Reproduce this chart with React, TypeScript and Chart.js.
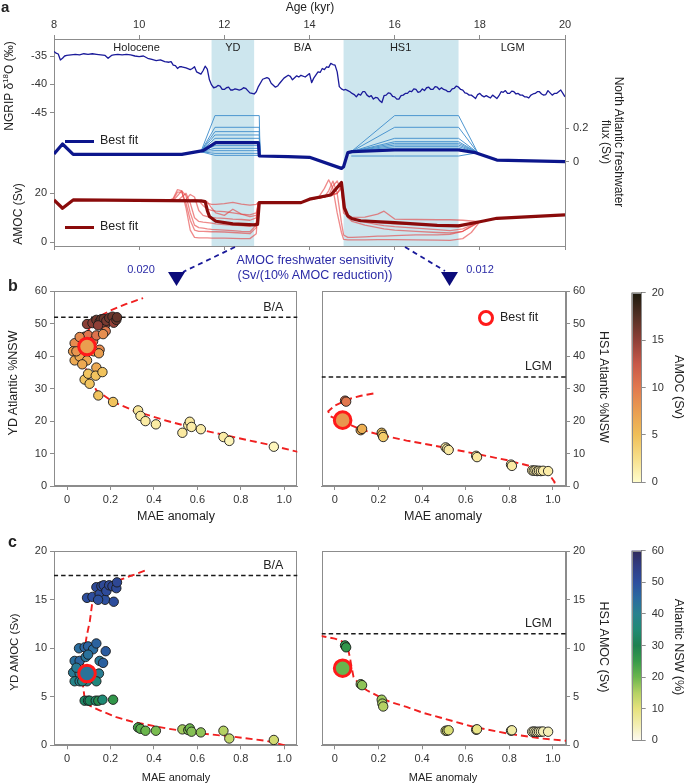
import React, { useEffect, useRef } from 'react';
import { Chart, registerables } from 'chart.js';
Chart.register(...registerables);

const FONT = "'Liberation Sans', Arial, Helvetica, sans-serif";
const GRAY = '#8c8c8c';
const TICK_TXT = '#333';

// ---------------- Panel a data ----------------
const ageTicks = [8, 10, 12, 14, 16, 18, 20];
const d18oTicks = [-45, -40, -35];
const fwTicks = [0, 0.2];
const amocTicksA = [0, 20];

const d18oAge = [
  8.0, 8.05, 8.1, 8.15, 8.2, 8.25, 8.3, 8.4, 8.5, 8.6,
  8.7, 8.8, 8.9, 9.0, 9.1, 9.2, 9.27, 9.35, 9.4, 9.5,
  9.6, 9.7, 9.8, 9.9, 10.0, 10.1, 10.2, 10.3, 10.4, 10.5,
  10.6, 10.7, 10.75, 10.8, 10.85, 10.9, 10.95, 11.0, 11.1, 11.2,
  11.25, 11.3, 11.35, 11.45, 11.5, 11.55, 11.6, 11.65, 11.7, 11.75,
  11.8, 11.85, 11.9, 11.95, 12.0, 12.05, 12.1, 12.15, 12.2, 12.25,
  12.3, 12.35, 12.4, 12.45, 12.5, 12.55, 12.6, 12.7, 12.75, 12.8,
  12.9, 13.0, 13.05, 13.1, 13.2, 13.25, 13.3, 13.4, 13.5, 13.55,
  13.6, 13.7, 13.75, 13.8, 13.9, 14.0, 14.05, 14.1, 14.2, 14.25,
  14.3, 14.35, 14.4, 14.45, 14.5, 14.55, 14.6, 14.65, 14.7, 14.75,
  14.8, 14.85, 14.9, 14.95, 15.0, 15.05, 15.1, 15.15, 15.2, 15.25,
  15.3, 15.35, 15.4, 15.45, 15.5, 15.55, 15.6, 15.65, 15.7, 15.75,
  15.8, 15.85, 15.9, 15.95, 16.0, 16.05, 16.1, 16.15, 16.2, 16.25,
  16.3, 16.35, 16.4, 16.45, 16.5, 16.55, 16.6, 16.65, 16.7, 16.75,
  16.8, 16.85, 16.9, 16.95, 17.0, 17.05, 17.1, 17.15, 17.2, 17.25,
  17.3, 17.35, 17.4, 17.45, 17.5, 17.55, 17.6, 17.65, 17.7, 17.75,
  17.8, 17.85, 17.9, 17.95, 18.0, 18.05, 18.1, 18.15, 18.2, 18.25,
  18.3, 18.35, 18.4, 18.45, 18.5, 18.55, 18.6, 18.65, 18.7, 18.75,
  18.8, 18.85, 18.9, 18.95, 19.0, 19.05, 19.1, 19.15, 19.2, 19.25,
  19.3, 19.35, 19.4, 19.45, 19.5, 19.55, 19.6, 19.65, 19.7, 19.75,
  19.8, 19.85, 19.9, 19.95, 20.0,
];
const d18oVal = [
  -34.2, -34.5, -34.65, -35.7, -35.4, -35.0, -34.9, -34.8, -34.7, -34.8,
  -34.6, -34.7, -34.6, -34.7, -34.8, -34.9, -35.4, -34.9, -34.8, -34.7,
  -34.8, -34.7, -34.8, -35.0, -35.1, -35.0, -35.4, -35.6, -35.8, -35.7,
  -36.0, -36.1, -36.0, -36.6, -36.7, -37.2, -36.9, -36.9, -37.1, -37.4,
  -37.2, -36.9, -37.8, -38.2, -37.6, -36.8, -37.3, -39.2, -40.1, -40.6,
  -40.5, -40.2, -40.3, -40.9, -40.9, -40.6, -40.5, -41.0, -41.0, -40.8,
  -40.9, -41.0, -40.9, -40.6, -40.7, -41.1, -41.5, -41.7, -41.3, -40.4,
  -39.1, -38.8, -39.0, -39.8, -40.5, -40.3, -39.8, -38.9, -38.4, -38.6,
  -39.2, -38.5, -38.7, -38.4, -38.7, -38.1, -39.7, -38.9, -37.8, -37.9,
  -37.2, -37.4, -36.9, -37.0, -36.3, -36.5, -36.6, -37.8, -40.4, -40.8,
  -41.0, -40.9, -41.1, -41.3, -41.6, -41.8, -42.2, -41.7, -41.9, -41.3,
  -41.3, -41.9, -42.2, -42.0, -42.6, -42.3, -42.4, -42.9, -43.2, -42.0,
  -41.9, -41.5, -41.6, -42.1, -42.2, -42.6, -42.6, -42.0, -41.9, -41.6,
  -41.6, -41.2, -41.3, -40.8, -40.9, -41.4, -41.3, -40.8, -41.1, -40.6,
  -40.5, -40.9, -40.9, -40.4, -40.5, -40.9, -40.6, -40.9, -41.0, -41.3,
  -41.3, -40.8, -40.7, -40.3, -40.5, -40.9, -41.0, -41.5, -41.6, -41.9,
  -41.9, -42.2, -42.5, -41.8, -41.6, -42.0, -42.2, -42.0, -42.2, -42.4,
  -41.9, -42.2, -42.5, -42.0, -41.3, -41.4, -41.1, -41.6, -41.6, -41.2,
  -41.3, -41.7, -41.6, -41.9, -41.9, -42.2, -42.2, -42.4, -41.9, -41.7,
  -41.6, -41.3, -41.3, -41.7, -41.9, -41.8, -41.1, -41.5, -41.9, -41.6,
  -41.6, -41.3, -41.0, -41.6, -42.2,
];

const fwBestAge = [8.0, 8.2, 8.45, 11.0, 11.5, 11.8, 12.8, 12.82, 13.5, 14.0, 14.75, 14.8, 14.9, 15.0, 16.0, 17.5, 17.9, 18.4, 20.0];
const fwBestVal = [0.046, 0.106, 0.044, 0.044, 0.066, 0.114, 0.114, 0.034, 0.03, 0.026, -0.04, -0.03, 0.054, 0.06, 0.07, 0.07, 0.054, 0.01, 0.0];

const fwYdAge = [11.45, 11.78, 12.82, 12.84];
const fwYdMembers = [
  [0.06, 0.276, 0.276, 0.034],
  [0.06, 0.206, 0.206, 0.034],
  [0.06, 0.18, 0.18, 0.034],
  [0.06, 0.16, 0.16, 0.034],
  [0.06, 0.14, 0.14, 0.034],
  [0.06, 0.096, 0.096, 0.034],
  [0.06, 0.08, 0.08, 0.034],
  [0.06, 0.066, 0.066, 0.034],
  [0.06, 0.05, 0.05, 0.034],
  [0.06, 0.038, 0.038, 0.034],
];
const fwHsAge = [14.98, 16.0, 17.5, 17.95];
const fwHsMembers = [
  [0.06, 0.276, 0.276, 0.054],
  [0.06, 0.206, 0.206, 0.054],
  [0.06, 0.14, 0.14, 0.054],
  [0.06, 0.12, 0.12, 0.054],
  [0.06, 0.11, 0.11, 0.054],
  [0.06, 0.10, 0.10, 0.054],
  [0.06, 0.09, 0.09, 0.054],
  [0.06, 0.08, 0.08, 0.054],
  [0.034, 0.034, 0.034, 0.054],
];

const amocBestAge = [8.0, 8.2, 8.45, 11.45, 11.55, 11.6, 11.65, 11.8, 12.2, 12.7, 12.78, 12.82, 13.5, 13.8, 14.0, 14.5, 14.75, 14.82, 14.9, 15.0, 15.2, 16.0, 17.0, 17.5, 18.0, 18.4, 20.0];
const amocBestVal = [17.3, 13.9, 17.3, 16.9, 16.6, 13.0, 10.5, 8.6, 7.5, 7.1, 7.3, 16.2, 16.2, 16.2, 17.6, 19.3, 24.4, 14.0, 10.8, 9.6, 8.8, 8.0, 6.9, 6.7, 8.4, 9.8, 11.2];

const amocYdAge = [10.7, 10.8, 10.9, 11.0, 11.1, 11.2, 11.3, 11.4, 11.5, 11.6, 11.7, 11.8, 12.0, 12.2, 12.4, 12.6, 12.75, 12.8];
const amocYdMembers = [
  [17, 18, 21.5, 21, 14, 5, 2.0, 1.8, 1.8, 1.8, 1.7, 1.7, 1.7, 1.6, 1.5, 1.5, 3.5, 16.2],
  [17, 17.5, 20.5, 20.5, 16, 9, 5, 4.5, 4.5, 4.4, 4.3, 4.3, 4.2, 4.0, 3.8, 3.5, 6, 16.2],
  [17, 17, 19, 21, 19, 12, 7, 6, 5.8, 5.5, 5.3, 5.2, 5.0, 4.8, 4.5, 4.3, 7, 16.2],
  [17, 17, 17, 18.5, 20, 16, 10, 8.5, 8.2, 8.0, 7.8, 7.5, 7.2, 7.0, 6.8, 6.5, 8, 16.2],
  [17, 17, 17, 17, 17.5, 19.5, 18.5, 13, 11, 10.5, 10.2, 10.0, 9.8, 9.5, 9.3, 9.0, 10, 16.2],
  [17, 17, 17, 17, 17, 17, 17.5, 17, 15, 13.5, 13, 12.7, 12.5, 12.0, 11.5, 11.2, 12, 16.2],
  [17, 17, 17, 17, 17, 17, 17, 17, 16.8, 16, 15.5, 15.5, 15.8, 16.3, 15.6, 15.2, 15.5, 16.2],
  [17, 17, 17, 17, 17, 17, 17, 17, 17, 16.5, 14, 12, 11, 13.5, 11.5, 10.5, 11, 16.2],
];
const amocHsAge = [14.0, 14.2, 14.35, 14.45, 14.55, 14.65, 14.75, 14.8, 14.9, 15.0, 15.3, 15.6, 15.75, 16.0, 16.5, 17.0, 17.3, 17.6, 17.8, 18.0];
const amocHsMembers = [
  [17.6, 18, 22, 25.5, 22, 12, 4, 1.2, 1.0, 1.0, 1.0, 1.1, 1.1, 1.1, 1.0, 0.9, 0.8, 1.5, 4, 8.4],
  [17.6, 18, 18.5, 21, 25, 20, 8, 3, 2.0, 2.0, 2.2, 2.5, 2.5, 2.7, 3.0, 3.0, 3.2, 4.5, 6.5, 8.4],
  [17.6, 18, 18.5, 19, 23, 25, 21, 12, 10.5, 10.2, 10.3, 11.5, 12.7, 9.5, 9.3, 9.2, 9.2, 9.0, 8.7, 8.4],
  [17.6, 18, 18.5, 19, 19.5, 22, 24, 16, 10.5, 9.5, 8.5, 8.0, 7.8, 7.5, 7.2, 7.0, 7.0, 7.2, 7.8, 8.4],
  [17.6, 18, 18.5, 19, 19.5, 20, 23, 15, 11, 9.8, 8.2, 7.2, 6.8, 6.4, 5.8, 5.2, 4.8, 5.5, 7, 8.4],
  [17.6, 18, 18.5, 19, 19.5, 20, 22, 14, 10, 8.5, 7.0, 6.0, 5.5, 5.0, 4.5, 4.0, 3.8, 4.5, 6.5, 8.4],
];

const zoneStart = [11.7, 14.8];
const zoneEnd = [12.7, 17.5];
const periodNames = ['Holocene', 'YD', 'B/A', 'HS1', 'LGM'];
const periodCentres = [9.94, 12.2, 13.84, 16.14, 18.77];
const sensitivity = ['0.020', '0.012'];

// ---------------- Panels b & c data ----------------
const maeTicks = [0, 0.2, 0.4, 0.6, 0.8, 1.0];
const nswTicks = [0, 10, 20, 30, 40, 50, 60];
const amocTicks = [0, 5, 10, 15, 20];

const ydMae = [
  0.092, 0.117, 0.135, 0.150, 0.158, 0.169, 0.175, 0.181, 0.194, 0.209, 0.215, 0.227, 0.230, 0.143,
  0.055, 0.081, 0.097, 0.120, 0.135, 0.178, 0.035, 0.058, 0.086, 0.097, 0.150, 0.166,
  0.028, 0.058, 0.123, 0.147, 0.035, 0.058, 0.092, 0.135, 0.043, 0.070,
  0.081, 0.097, 0.104, 0.132, 0.144, 0.163, 0.212,
  0.327, 0.338, 0.361, 0.409, 0.531, 0.558, 0.565, 0.573, 0.616, 0.720, 0.747, 0.952,
];
const ydNsw = [
  49.9, 50.2, 51.2, 50.6, 51.4, 51.5, 49.6, 50.9, 51.8, 52.2, 50.3, 51.2, 52.0, 49.5,
  44.3, 46.0, 46.5, 44.6, 46.4, 47.7, 44.0, 45.9, 42.8, 43.5, 42.0, 46.8,
  41.5, 40.8, 41.5, 40.9, 38.7, 39.9, 38.7, 36.5, 41.5, 37.5,
  32.8, 34.6, 31.5, 34.0, 27.9, 35.1, 25.9,
  23.3, 21.6, 20.0, 19.0, 16.4, 18.7, 19.8, 18.2, 17.5, 15.1, 13.9, 12.1,
];
const ydAmoc = [
  15.2, 15.3, 16.3, 15.6, 16.4, 16.5, 15.0, 15.9, 16.5, 16.4, 14.8, 16.2, 16.8, 15.0,
  10.0, 10.1, 10.2, 9.9, 10.5, 9.7, 8.7, 8.7, 9.1, 9.35, 8.7, 8.5,
  7.5, 7.4, 7.0, 7.4, 6.6, 6.6, 6.6, 6.6, 8.0, 6.6,
  4.6, 4.6, 4.6, 4.6, 4.6, 4.7, 4.7,
  1.84, 1.7, 1.5, 1.5, 1.64, 1.57, 1.74, 1.4, 1.33, 1.5, 0.7, 0.55,
];
const hsMae = [0.047, 0.052, 0.119, 0.125, 0.215, 0.218, 0.222, 0.508, 0.515, 0.522, 0.648, 0.652, 0.808, 0.812, 0.905, 0.912, 0.920, 0.928, 0.936, 0.945, 0.955, 0.978];
const hsNsw = [26.3, 26.0, 17.2, 17.6, 16.4, 15.8, 15.1, 11.9, 11.5, 11.1, 9.3, 8.9, 6.6, 6.2, 4.8, 4.7, 4.8, 4.6, 4.7, 4.6, 4.7, 4.6];
const hsAmoc = [10.3, 10.1, 6.3, 6.2, 4.7, 4.3, 4.0, 1.5, 1.5, 1.55, 1.6, 1.65, 1.5, 1.55, 1.4, 1.42, 1.4, 1.38, 1.4, 1.4, 1.42, 1.4];

const bestMae = [0.092, 0.036];
const bestNsw = [43.0, 20.3];
const bestAmoc = [7.4, 7.95];

const ydNswFitX = [1.07, 0.918, 0.765, 0.611, 0.458, 0.304, 0.212, 0.135, 0.104, 0.085, 0.075, 0.078, 0.09, 0.115, 0.15, 0.197, 0.273, 0.35];
const ydNswFitY = [10.4, 12.9, 15.1, 17.4, 20.1, 23.3, 25.9, 29.5, 33.0, 36.5, 40, 43.5, 47, 50, 52.3, 54.0, 56.1, 57.9];
const ydAmocFitX = [1.003, 0.918, 0.765, 0.611, 0.458, 0.304, 0.227, 0.15, 0.104, 0.08, 0.072, 0.075, 0.09, 0.105, 0.115, 0.13, 0.17, 0.25, 0.358];
const ydAmocFitY = [0, 0.45, 0.89, 1.23, 1.74, 2.4, 2.9, 3.6, 4.1, 5.0, 6.5, 9, 11.2, 12.8, 14.5, 15.6, 16.4, 17.1, 18.0];
const hsNswFitX = [0.177, 0.12, 0.07, 0.04, 0.0, -0.03, -0.02, 0.02, 0.06, 0.119, 0.2, 0.329, 0.482, 0.634, 0.787, 0.939, 0.985, 1.008, 1.0];
const hsNswFitY = [28.5, 27.8, 26.9, 26.0, 24.8, 23.0, 21.5, 20.2, 19.2, 17.4, 15.9, 14.0, 12.1, 10.1, 8.0, 5.4, 3.4, 1.2, 0];
const hsAmocFitX = [-0.07, 0.0, 0.035, 0.06, 0.07, 0.075, 0.086, 0.116, 0.147, 0.177, 0.253, 0.329, 0.406, 0.482, 0.634, 0.787, 0.939, 1.07];
const hsAmocFitY = [11.3, 11.0, 10.7, 10.0, 9.0, 8.3, 7.03, 6.18, 5.67, 5.32, 4.47, 3.96, 3.34, 2.87, 1.91, 1.23, 0.72, 0.45];

const refNsw = [52.0, 33.6];
const refAmoc = [17.5, 11.5];
const refNames = ['B/A', 'LGM'];

// ---------------- colour maps (styles) ----------------
const LAJOLLA: [number, string][] = [
  [0, '#fffdcc'], [0.125, '#f7df8a'], [0.25, '#f0bf57'], [0.375, '#ea9d4f'], [0.5, '#e2784e'],
  [0.625, '#c85848'], [0.75, '#8f3f37'], [0.875, '#533024'], [1, '#1c1a0c'],
];
const DEEP: [number, string][] = [
  [0, '#fdfaf0'], [0.083, '#f3eeb0'], [0.167, '#e6e27c'], [0.25, '#b5d263'], [0.333, '#6bb64d'],
  [0.417, '#379b49'], [0.5, '#1d8150'], [0.583, '#1f8a74'], [0.667, '#27818f'], [0.75, '#2a6aa0'],
  [0.833, '#2d4e9e'], [0.917, '#303c84'], [1, '#312b5c'],
];
function hexRgb(h: string) { const n = parseInt(h.slice(1), 16); return [(n >> 16) & 255, (n >> 8) & 255, n & 255]; }
function cmap(stops: [number, string][], t: number) {
  t = Math.max(0, Math.min(1, t));
  for (let i = 1; i < stops.length; i++) {
    if (t <= stops[i][0]) {
      const [t0, c0] = stops[i - 1]; const [t1, c1] = stops[i];
      const f = (t - t0) / (t1 - t0);
      const a = hexRgb(c0), b = hexRgb(c1);
      return `rgb(${a.map((v, k) => Math.round(v + (b[k] - v) * f)).join(',')})`;
    }
  }
  return stops[stops.length - 1][1];
}

// ---------------- helpers ----------------
const pts = (xs: number[], ys: number[]) => xs.map((x, i) => ({ x, y: ys[i] }));
function rangeFrom(v1: number, p1: number, v2: number, p2: number, top: number, bottom: number) {
  const k = (v2 - v1) / (p2 - p1);
  return { max: v1 + k * (top - p1), min: v1 + k * (bottom - p1) };
}
function mkAxis(o: any) {
  const ax: any = {
    type: 'linear',
    position: o.position,
    min: o.min, max: o.max,
    grid: { drawOnChartArea: false, drawTicks: true, tickLength: 4, color: GRAY, lineWidth: 1 },
    border: { display: true, color: GRAY, width: 1 },
    ticks: { font: { family: FONT, size: o.fontSize || 11 }, color: TICK_TXT, padding: o.padding ?? 3, maxRotation: 0, autoSkip: false },
    afterFit: (s: any) => { if (o.width != null) s.width = o.width; if (o.height != null) s.height = o.height; },
  };
  if (o.weight != null) ax.weight = o.weight;
  if (o.callback) ax.ticks.callback = o.callback;
  if (o.ticksAt) ax.afterBuildTicks = (s: any) => { s.ticks = o.ticksAt.map((value: number) => ({ value })); };
  return ax;
}

// panel a layout
const A_W = 685, A_H = 258, A_LEFT = 54, A_RIGHT = 565, A_TOP = 39, A_BOTTOM = 246;

const zonePlugin = {
  id: 'zones',
  beforeDraw(chart: any) {
    const { ctx, chartArea: ca, scales } = chart;
    const x = scales.x;
    ctx.save();
    ctx.fillStyle = '#cde6ee';
    zoneStart.forEach((s, i) => {
      const x1 = x.getPixelForValue(s), x2 = x.getPixelForValue(zoneEnd[i]);
      ctx.fillRect(x1, ca.top, x2 - x1, ca.bottom - ca.top);
    });
    ctx.font = `11px ${FONT}`;
    ctx.fillStyle = '#222';
    ctx.textAlign = 'center';
    ctx.textBaseline = 'middle';
    periodNames.forEach((n, i) => ctx.fillText(n, x.getPixelForValue(periodCentres[i]), ca.top + 8.5));
    ctx.restore();
  },
  afterDraw(chart: any) {
    // tick labels of the inner (zero-width) AMOC axis, which Chart.js clips away
    const { ctx, chartArea: ca, scales } = chart;
    const s = scales.ya;
    ctx.save();
    ctx.font = `11px ${FONT}`;
    ctx.fillStyle = TICK_TXT;
    ctx.textAlign = 'right';
    ctx.textBaseline = 'middle';
    s.ticks.forEach((t: any) => ctx.fillText(String(t.value), ca.left - 7, s.getPixelForValue(t.value)));
    ctx.restore();
  },
};

function lineDs(data: any[], yAxisID: string, color: string, width: number, order: number) {
  return { data, xAxisID: 'x', yAxisID, borderColor: color, borderWidth: width, pointRadius: 0, tension: 0, fill: false, order, borderJoinStyle: 'round' };
}

function panelAConfig() {
  const dR = rangeFrom(-35, 56, -45, 112.7, A_TOP, A_BOTTOM);
  const fR = rangeFrom(0, 161.7, 0.2, 128.3, A_TOP, A_BOTTOM);
  const mR = rangeFrom(0, 242.3, 20, 193.3, A_TOP, A_BOTTOM);
  const FW_ENS = 'rgba(70,145,205,0.95)';
  const AM_ENS = 'rgba(228,60,60,0.6)';
  const datasets: any[] = [
    ...fwYdMembers.map(m => lineDs(pts(fwYdAge, m), 'yf', FW_ENS, 1, 6)),
    ...fwHsMembers.map(m => lineDs(pts(fwHsAge, m), 'yf', FW_ENS, 1, 6)),
    lineDs(pts(fwBestAge, fwBestVal), 'yf', '#0c168c', 3.2, 2),
    ...amocYdMembers.map(m => lineDs(pts(amocYdAge, m), 'ya', AM_ENS, 1.3, 5)),
    ...amocHsMembers.map(m => lineDs(pts(amocHsAge, m), 'ya', AM_ENS, 1.3, 5)),
    lineDs(pts(amocBestAge, amocBestVal), 'ya', '#8a0b0b', 3.2, 2),
    lineDs(pts(d18oAge, d18oVal), 'yd', '#1b1b9a', 1.3, 1),
  ];
  return {
    type: 'line',
    data: { datasets },
    options: {
      animation: false, responsive: false, events: [],
      layout: { padding: 0 },
      plugins: { legend: { display: false }, tooltip: { enabled: false } },
      scales: {
        x: mkAxis({ position: 'top', min: 8, max: 20, ticksAt: ageTicks, height: A_TOP }),
        xb: mkAxis({ position: 'bottom', min: 8, max: 20, ticksAt: ageTicks, height: A_H - A_BOTTOM, callback: () => '' }),
        yd: mkAxis({ position: 'left', min: dR.min, max: dR.max, ticksAt: d18oTicks, width: A_LEFT, weight: 2 }),
        ya: mkAxis({ position: 'left', min: mR.min, max: mR.max, ticksAt: amocTicksA, width: 0, weight: 1 }),
        yf: mkAxis({ position: 'right', min: fR.min, max: fR.max, ticksAt: fwTicks, width: A_W - A_RIGHT, padding: 4 }),
      },
    },
    plugins: [zonePlugin],
  };
}

function drawFrame(chart: any, opts: any) {
  const { ctx, chartArea: ca } = chart;
  ctx.save();
  ctx.strokeStyle = GRAY;
  ctx.lineWidth = 1;
  ctx.strokeRect(Math.round(ca.left) + 0.5, Math.round(ca.top) + 0.5, Math.round(ca.right - ca.left) - 1, Math.round(ca.bottom - ca.top) - 1);
  if (opts.text) {
    const y = chart.scales.y.getPixelForValue(opts.value);
    ctx.fillStyle = '#222';
    ctx.font = `12.5px ${FONT}`;
    ctx.textAlign = 'right';
    ctx.textBaseline = 'middle';
    ctx.fillText(opts.text, ca.right - 14, y - 10);
  }
  ctx.restore();
}
const framePlugin = {
  id: 'frame',
  beforeDatasetsDraw(chart: any, _a: any, opts: any) { if (!opts.front) drawFrame(chart, opts); },
  afterDatasetsDraw(chart: any, _a: any, opts: any) { if (opts.front) drawFrame(chart, opts); },
};

function scatterConfig(o: any) {
  return {
    type: 'scatter',
    data: {
      datasets: [
        { data: o.points, backgroundColor: o.colors, borderColor: '#1a1a1a', borderWidth: 0.9, pointRadius: 4.7, order: 2 },
        { data: [o.best], backgroundColor: o.bestColor, borderColor: '#ff1a1a', borderWidth: 3, pointRadius: 8.3, order: 1 },
        { data: o.fit, showLine: true, fill: false, borderColor: '#f02020', borderWidth: 1.9, borderDash: [7, 4], pointRadius: 0, order: 3 },
        { data: [{ x: -0.2, y: o.ref }, { x: 1.2, y: o.ref }], showLine: true, borderColor: '#1a1a1a', borderWidth: 1.4, borderDash: [4.5, 3], pointRadius: 0, order: 4 },
      ],
    },
    options: {
      animation: false, responsive: false, events: [],
      layout: { padding: { left: o.padLeft, right: o.padRight, top: o.padTop, bottom: 0 } },
      plugins: { legend: { display: false }, tooltip: { enabled: false }, frame: { text: o.refText, value: o.ref, front: false } },
      scales: {
        x: mkAxis({ position: 'bottom', min: -0.06, max: 1.06, ticksAt: maeTicks, height: o.xHeight, callback: (v: number) => (v === 0 ? '0' : v.toFixed(1)) }),
        y: mkAxis({ position: o.yPos, min: 0, max: o.yMax, ticksAt: o.yTicks, width: o.yWidth }),
      },
    },
    plugins: [framePlugin],
  };
}

function colorbarConfig(o: any) {
  return {
    type: 'bar',
    data: {
      labels: [''],
      datasets: [{
        data: [[0, o.max]],
        backgroundColor: (c: any) => {
          const ca = c.chart.chartArea;
          if (!ca) return o.stops[0][1];
          const g = c.chart.ctx.createLinearGradient(0, ca.bottom, 0, ca.top);
          o.stops.forEach(([t, col]: [number, string]) => g.addColorStop(t, col));
          return g;
        },
        borderWidth: 0, barPercentage: 1, categoryPercentage: 1,
      }],
    },
    options: {
      animation: false, responsive: false, events: [],
      layout: { padding: { left: o.padLeft, right: 0, top: o.padTop, bottom: o.padBottom } },
      plugins: { legend: { display: false }, tooltip: { enabled: false }, frame: { front: true } },
      scales: {
        x: { display: false },
        y: mkAxis({ position: 'right', min: 0, max: o.max, ticksAt: o.ticks, width: o.width, padding: 6 }),
      },
    },
    plugins: [framePlugin],
  };
}

function Txt(p: any) {
  const { x, y, size = 12, rot = 0, color = '#222', weight = 400, align = 'center', children } = p;
  const tx = align === 'center' ? '-50%' : align === 'left' ? '0%' : '-100%';
  return (
    <div style={{
      position: 'absolute', left: x, top: y, transform: `translate(${tx},-50%) rotate(${rot}deg)`,
      fontSize: size, color, fontWeight: weight, whiteSpace: 'nowrap', lineHeight: 1.1, fontFamily: FONT,
      textAlign: 'center',
    }}>{children}</div>
  );
}

const cv = (left: number, top: number, w: number, h: number) => ({ position: 'absolute' as const, left, top, width: w, height: h });

export default function App() {
  const rA = useRef<HTMLCanvasElement>(null);
  const rB1 = useRef<HTMLCanvasElement>(null);
  const rB2 = useRef<HTMLCanvasElement>(null);
  const rBc = useRef<HTMLCanvasElement>(null);
  const rC1 = useRef<HTMLCanvasElement>(null);
  const rC2 = useRef<HTMLCanvasElement>(null);
  const rCc = useRef<HTMLCanvasElement>(null);

  useEffect(() => {
    const charts: any[] = [];
    charts.push(new Chart(rA.current as any, panelAConfig() as any));

    const ydColAmoc = ydAmoc.map(v => cmap(LAJOLLA, v / 20));
    const hsColAmoc = hsAmoc.map(v => cmap(LAJOLLA, v / 20));
    const ydColNsw = ydNsw.map(v => cmap(DEEP, v / 60));
    const hsColNsw = hsNsw.map(v => cmap(DEEP, v / 60));

    charts.push(new Chart(rB1.current as any, scatterConfig({
      points: pts(ydMae, ydNsw), colors: ydColAmoc,
      best: { x: bestMae[0], y: bestNsw[0] }, bestColor: cmap(LAJOLLA, bestAmoc[0] / 20),
      fit: pts(ydNswFitX, ydNswFitY), ref: refNsw[0], refText: refNames[0],
      yPos: 'left', yMax: 60, yTicks: nswTicks, yWidth: 54, padLeft: 0, padRight: 12.7, padTop: 10.7, xHeight: 24,
    }) as any));
    charts.push(new Chart(rB2.current as any, scatterConfig({
      points: pts(hsMae, hsNsw), colors: hsColAmoc,
      best: { x: bestMae[1], y: bestNsw[1] }, bestColor: cmap(LAJOLLA, bestAmoc[1] / 20),
      fit: pts(hsNswFitX, hsNswFitY), ref: refNsw[1], refText: refNames[1],
      yPos: 'right', yMax: 60, yTicks: nswTicks, yWidth: 44, padLeft: 21.7, padRight: 0, padTop: 11, xHeight: 24,
    }) as any));
    charts.push(new Chart(rBc.current as any, colorbarConfig({
      stops: LAJOLLA, max: 20, ticks: amocTicks, padLeft: 11.5, padTop: 11, padBottom: 8.3, width: 38.3,
    }) as any));
    charts.push(new Chart(rC1.current as any, scatterConfig({
      points: pts(ydMae, ydAmoc), colors: ydColNsw,
      best: { x: bestMae[0], y: bestAmoc[0] }, bestColor: cmap(DEEP, bestNsw[0] / 60),
      fit: pts(ydAmocFitX, ydAmocFitY), ref: refAmoc[0], refText: refNames[0],
      yPos: 'left', yMax: 20, yTicks: amocTicks, yWidth: 54, padLeft: 0, padRight: 12.7, padTop: 10, xHeight: 26.7,
    }) as any));
    charts.push(new Chart(rC2.current as any, scatterConfig({
      points: pts(hsMae, hsAmoc), colors: hsColNsw,
      best: { x: bestMae[1], y: bestAmoc[1] }, bestColor: cmap(DEEP, bestNsw[1] / 60),
      fit: pts(hsAmocFitX, hsAmocFitY), ref: refAmoc[1], refText: refNames[1],
      yPos: 'right', yMax: 20, yTicks: amocTicks, yWidth: 44, padLeft: 21.7, padRight: 0, padTop: 10, xHeight: 26.7,
    }) as any));
    charts.push(new Chart(rCc.current as any, colorbarConfig({
      stops: DEEP, max: 60, ticks: nswTicks, padLeft: 11.5, padTop: 10.3, padBottom: 7.7, width: 38.3,
    }) as any));

    return () => charts.forEach(c => c.destroy());
  }, []);

  const BLUE_TXT = '#2a2aa6';
  return (
    <div style={{ position: 'absolute', left: 0, top: 0, width: 685, height: 783, background: '#fff', overflow: 'hidden', fontFamily: FONT }}>
      <canvas ref={rA} width={A_W} height={A_H} style={cv(0, 0, A_W, A_H)} />
      <canvas ref={rB1} width={310} height={230} style={cv(0, 280, 310, 230)} />
      <canvas ref={rB2} width={310} height={230} style={cv(300, 280, 310, 230)} />
      <canvas ref={rBc} width={60} height={215} style={cv(620, 280, 60, 215)} />
      <canvas ref={rC1} width={310} height={232} style={cv(0, 540, 310, 232)} />
      <canvas ref={rC2} width={310} height={232} style={cv(300, 540, 310, 232)} />
      <canvas ref={rCc} width={60} height={215} style={cv(620, 538, 60, 215)} />

      <svg width={685} height={783} style={{ position: 'absolute', left: 0, top: 0, pointerEvents: 'none' }}>
        <line x1={235} y1={247} x2={183} y2={272} stroke="#1a1a9a" strokeWidth={1.8} strokeDasharray="5 4" />
        <polygon points="168,272 185,272 176.5,286" fill="#0b0b7a" />
        <line x1={405} y1={247} x2={445} y2={271} stroke="#1a1a9a" strokeWidth={1.8} strokeDasharray="5 4" />
        <polygon points="441,272 458,272 449.5,286" fill="#0b0b7a" />
      </svg>

      {/* panel a texts */}
      <Txt x={1} y={7} size={15} weight={700} align="left">a</Txt>
      <Txt x={310} y={8} size={12}>Age (kyr)</Txt>
      <Txt x={9} y={86} size={12} rot={-90}>NGRIP δ<sup style={{ fontSize: 8 }}>18</sup>O (‰)</Txt>
      <Txt x={19} y={214} size={12} rot={-90}>AMOC (Sv)</Txt>
      <Txt x={612} y={142} size={12} rot={90}>North Atlantic freshwater<br />flux (Sv)</Txt>
      <div style={{ position: 'absolute', left: 65, top: 139.5, width: 29, height: 3, background: '#0c168c' }} />
      <Txt x={100} y={141} size={12.5} align="left">Best fit</Txt>
      <div style={{ position: 'absolute', left: 65, top: 225.5, width: 29, height: 3, background: '#8a0b0b' }} />
      <Txt x={100} y={227} size={12.5} align="left">Best fit</Txt>
      <Txt x={315} y={261} size={12.5} color={BLUE_TXT}>AMOC freshwater sensitivity</Txt>
      <Txt x={315} y={276} size={12.5} color={BLUE_TXT}>(Sv/(10% AMOC reduction))</Txt>
      <Txt x={141} y={269} size={11} color={BLUE_TXT}>{sensitivity[0]}</Txt>
      <Txt x={480} y={269} size={11} color={BLUE_TXT}>{sensitivity[1]}</Txt>

      {/* panel b texts */}
      <Txt x={8} y={286} size={16} weight={700} align="left">b</Txt>
      <Txt x={14} y={383} size={12.5} rot={-90}>YD Atlantic %NSW</Txt>
      <Txt x={176} y={517} size={12.5}>MAE anomaly</Txt>
      <Txt x={443} y={517} size={12.5}>MAE anomaly</Txt>
      <Txt x={603} y={387} size={12.5} rot={90}>HS1 Atlantic %NSW</Txt>
      <Txt x={678} y={387} size={12.5} rot={90}>AMOC (Sv)</Txt>
      <div style={{ position: 'absolute', left: 478, top: 310, width: 10, height: 10, borderRadius: '50%', border: '3px solid #ff1a1a', background: '#fff' }} />
      <Txt x={500} y={318} size={12.5} align="left">Best fit</Txt>

      {/* panel c texts */}
      <Txt x={8} y={542} size={16} weight={700} align="left">c</Txt>
      <Txt x={14} y={652} size={11.5} rot={-90}>YD AMOC (Sv)</Txt>
      <Txt x={176} y={777} size={11} >MAE anomaly</Txt>
      <Txt x={443} y={777} size={11}>MAE anomaly</Txt>
      <Txt x={603} y={647} size={12.5} rot={90}>HS1 AMOC (Sv)</Txt>
      <Txt x={678} y={647} size={12.5} rot={90}>Atlantic NSW (%)</Txt>
    </div>
  );
}
